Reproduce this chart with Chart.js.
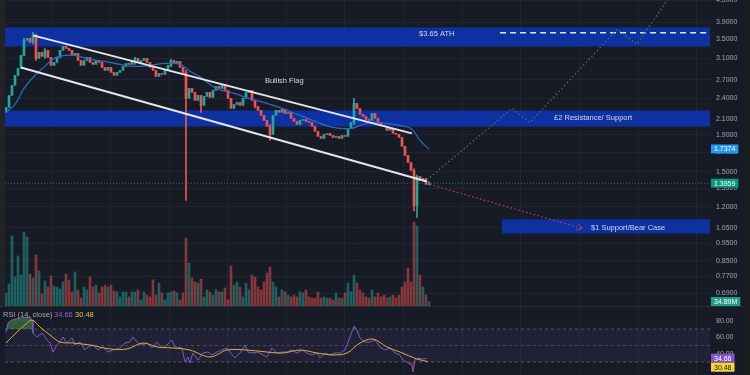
<!DOCTYPE html>
<html>
<head>
<meta charset="utf-8">
<script src="https://cdn.jsdelivr.net/npm/chart.js@4.4.1/dist/chart.umd.min.js"></script>
<style>
  html, body { margin: 0; padding: 0; background: #171b26; overflow: hidden; }
  #wrap { position: relative; width: 750px; height: 375px; overflow: hidden; background: #171b26; }
  #main { position: absolute; left: 0; top: -10px; }
  #rsi { position: absolute; left: 0; top: 307px; }
  #strip { position: absolute; left: 0; top: 0; width: 5px; height: 306px; background: #222326; }
  #sep { position: absolute; left: 0; top: 306px; width: 750px; height: 1px; background: #2a2e39; }
  #edge { position: absolute; left: 744px; top: 0; width: 6px; height: 375px; background: #1b1c1f; }
</style>
</head>
<body>
<div id="wrap">
  <canvas id="main" width="750" height="316"></canvas>
  <canvas id="rsi" width="750" height="68"></canvas>
  <div id="strip"></div>
  <div id="sep"></div>
  <div id="edge"></div>
</div>
<script>
// candles, one per session, index 0..141
const opens = [2.195, 2.266, 2.446, 2.608, 2.780, 2.907, 3.159, 3.476, 3.521, 3.432,
  3.589, 3.099, 3.220, 3.139, 3.261, 3.118, 2.963, 3.020, 3.118, 3.261,
  3.346, 3.303, 3.261, 3.159, 3.199, 3.059, 2.963, 3.059, 3.118, 3.020,
  2.982, 3.059, 3.020, 2.925, 2.870, 2.925, 2.833, 2.780, 2.833, 2.870,
  2.944, 3.001, 2.982, 3.059, 3.099, 3.020, 3.059, 3.099, 3.020, 2.925,
  2.870, 2.762, 2.815, 2.797, 2.870, 2.963, 3.059, 3.001, 3.040, 2.925,
  2.833, 2.400, 2.558, 2.493, 2.369, 2.446, 2.295, 2.430, 2.493, 2.415,
  2.526, 2.591, 2.558, 2.624, 2.526, 2.400, 2.251, 2.309, 2.339, 2.295,
  2.400, 2.493, 2.526, 2.369, 2.280, 2.223, 2.153, 2.085, 2.007, 1.907,
  2.153, 2.223, 2.195, 2.237, 2.180, 2.195, 2.112, 2.072, 2.032, 2.085,
  2.098, 2.072, 2.058, 2.007, 1.944, 1.882, 1.858, 1.907, 1.919, 1.894,
  1.870, 1.882, 1.858, 1.894, 1.882, 1.981, 2.058, 2.324, 2.251, 2.167,
  2.139, 2.098, 2.085, 2.180, 2.112, 2.058, 2.019, 2.007, 1.956, 1.981,
  1.919, 1.907, 1.870, 1.766, 1.667, 1.594, 1.515, 1.211, 1.458, 1.421,
  1.439, 1.385];
const closes = [2.266, 2.446, 2.608, 2.780, 2.907, 3.159, 3.476, 3.521, 3.432, 3.589,
  3.099, 3.220, 3.139, 3.261, 3.118, 2.963, 3.020, 3.118, 3.261, 3.346,
  3.303, 3.261, 3.159, 3.199, 3.059, 2.963, 3.059, 3.118, 3.020, 2.982,
  3.059, 3.020, 2.925, 2.870, 2.925, 2.833, 2.780, 2.833, 2.870, 2.944,
  3.001, 2.982, 3.059, 3.099, 3.020, 3.059, 3.099, 3.020, 2.925, 2.870,
  2.762, 2.815, 2.797, 2.870, 2.963, 3.059, 3.001, 3.040, 2.925, 2.833,
  2.400, 2.558, 2.493, 2.369, 2.446, 2.295, 2.430, 2.493, 2.415, 2.526,
  2.591, 2.558, 2.624, 2.526, 2.400, 2.251, 2.309, 2.339, 2.295, 2.400,
  2.493, 2.526, 2.369, 2.280, 2.223, 2.153, 2.085, 2.007, 1.907, 2.153,
  2.223, 2.195, 2.237, 2.180, 2.195, 2.112, 2.072, 2.032, 2.085, 2.098,
  2.072, 2.058, 2.007, 1.944, 1.882, 1.858, 1.907, 1.919, 1.894, 1.870,
  1.882, 1.858, 1.894, 1.882, 1.981, 2.058, 2.324, 2.251, 2.167, 2.139,
  2.098, 2.085, 2.180, 2.112, 2.058, 2.019, 2.007, 1.956, 1.981, 1.919,
  1.907, 1.870, 1.766, 1.667, 1.594, 1.515, 1.211, 1.458, 1.421, 1.439,
  1.385, 1.3959];
// visible wicks: [candle index, high, low]
const wicks = [[6, 3.52, 3.15], [9, 3.66, 3.40], [10, 3.62, 3.06], [13, 3.30, 3.10],
  [43, 3.12, 2.98], [55, 3.08, 2.94], [60, 2.87, 1.251], [65, 2.43, 2.195],
  [83, 2.36, 2.26], [88, 2.03, 1.835], [116, 2.40, 2.03], [136, 1.53, 1.17],
  [137, 1.47, 1.122], [141, 1.41, 1.38]];
// volume in millions
const volumes = [101, 171, 543, 225, 388, 240, 574, 535, 248, 217,
  395, 271, 93, 194, 147, 233, 155, 147, 132, 186,
  248, 202, 109, 264, 124, 62, 147, 124, 225, 147,
  163, 101, 147, 163, 147, 163, 116, 109, 70, 109,
  109, 70, 109, 109, 124, 47, 109, 85, 70, 202,
  85, 178, 101, 47, 101, 109, 116, 101, 47, 101,
  527, 333, 217, 186, 178, 209, 70, 124, 109, 85,
  124, 109, 109, 140, 47, 310, 163, 186, 147, 70,
  178, 124, 240, 225, 147, 124, 186, 256, 302, 186,
  147, 70, 124, 109, 85, 70, 85, 70, 109, 101,
  124, 70, 62, 62, 109, 62, 70, 62, 62, 47,
  101, 62, 62, 101, 178, 109, 240, 178, 124, 101,
  70, 62, 124, 70, 101, 70, 85, 62, 70, 85,
  62, 85, 147, 186, 295, 186, 651, 620, 240, 147,
  85, 34.89];

// moving average
const maIdx = [0, 3, 6, 10, 13, 16, 20, 23, 28, 33, 38, 43, 48, 53, 58, 61, 65, 70, 76, 81, 87, 92, 98, 104, 109, 115, 118, 122, 127, 131, 135, 138, 141];
const maVal = [2.195, 2.309, 2.558, 2.797, 2.944, 3.099, 3.159, 3.159, 3.079, 3.040, 2.982, 2.944, 2.963, 3.001, 2.982, 2.870, 2.744, 2.558, 2.478, 2.400, 2.324, 2.251, 2.153, 2.058, 1.994, 1.981, 2.019, 2.058, 2.045, 2.019, 1.981, 1.835, 1.7374];

// drawings
const chanUpIdx = [9, 135.3], chanUpVal = [3.589, 1.919];
const chanLoIdx = [5, 140.3], chanLoVal = [2.925, 1.412];
const bullIdx = [141.3, 168.7, 174.7, 203.7, 210.3, 224], bullVal = [1.448, 2.251, 2.058, 3.730, 3.389, 4.97];
const bearIdx = [141.3, 192], bearVal = [1.385, 1.046];
const athIdx = [164.7, 234.67], athVal = 3.65;
const bandStart = [-0.33, -0.33, 165.3];
const bandTop = [3.777, 2.223, 1.108];
const bandBottom = [3.346, 2.007, 1.013];
const noteTexts = ['$3.65 ATH', '£2 Resistance/ Support', '$1 Support/Bear Case', 'Bullish Flag'];
const noteIdx = [137.7, 182.7, 195, 86.3];
const noteVal = [3.612, 2.112, 1.052, 2.675];

// RSI pane
const rsiIdx = [0, 0.67, 2, 4.67, 8, 8.67, 9, 10.3, 12, 13.67, 14.67, 15.67, 17, 18, 19, 20.3, 22, 23, 24.67, 26.3,
  27.3, 29, 30.67, 32.3, 34, 35.67, 38, 39.67, 41.3, 42.3, 43.67, 45.3, 47, 48.67, 50.3, 52, 53.67, 55.3, 56.3, 58.67,
  59.67, 60.67, 61.3, 62.3, 64, 65.67, 67.3, 68.67, 70.3, 72, 73.67, 74.67, 76.3, 78, 79.67, 80.67, 82.3, 84, 85.67, 87,
  88.67, 90.3, 92, 93.67, 95.3, 97, 98.67, 100.3, 102, 103.67, 104.67, 106.3, 108, 109.67, 111.3, 113, 114.67, 116, 117, 118,
  119.67, 121.3, 123, 124.67, 126.3, 128, 129.67, 131.3, 132.3, 134, 135.3, 135.67, 136.3, 137.3, 139, 140.3];
const rsiVal = [66.4, 77.3, 80.9, 83.3, 84.5, 80.9, 65.2, 60.3, 65.2, 56.7, 53.0, 42.1, 50.6, 54.2, 60.3, 53.0, 59.1, 50.6, 54.2, 44.5,
  48.2, 50.6, 44.5, 48.2, 42.1, 44.5, 47.0, 53.0, 54.2, 60.3, 54.2, 50.6, 53.0, 47.0, 54.2, 47.0, 50.6, 56.7, 48.2, 47.0,
  30.0, 36.1, 28.8, 40.9, 32.4, 40.9, 42.1, 38.5, 42.1, 44.5, 47.0, 42.1, 34.8, 40.9, 50.6, 42.1, 40.9, 42.1, 38.5, 36.1,
  47.0, 40.9, 42.1, 42.1, 44.5, 40.9, 44.5, 40.9, 38.5, 40.9, 34.8, 40.9, 38.5, 40.9, 40.9, 44.5, 60.3, 73.6, 68.8, 59.1,
  54.2, 54.2, 56.7, 48.2, 44.5, 47.0, 40.9, 38.5, 32.4, 28.8, 26.4, 17.9, 32.4, 34.8, 33.6, 34.66];
const rsiMaIdx = [0, 3.67, 6.33, 8.67, 11.33, 14.67, 18, 22.33, 28, 34.67, 40.33, 45.67, 50.33, 55.67, 61.33,
  68, 73.67, 80.33, 87, 92.33, 98, 103.67, 109, 113.67, 118, 122.33, 127, 131.33, 137, 140.67];
const rsiMaVal = [53.0, 66.4, 74.8, 80.9, 72.4, 62.7, 54.2, 53.0, 50.6, 45.8, 45.8, 53.0, 48.2, 47.0, 44.5,
  36.1, 44.5, 44.5, 42.1, 40.9, 44.5, 40.9, 38.5, 40.9, 53.0, 57.9, 48.2, 42.1, 33.6, 30.48];

// axes
const xMin = -0.33, xMax = 234.67;
const priceMin = 0.637, priceMax = 4.5;
const rsiMin = 14.24, rsiMax = 96.67;
const gridX = [15.3, 34.9, 54.4, 73.9, 93.5, 113, 132.5, 152.1, 171.6, 191.1, 210.7, 230.2];
const priceTicks = [4.5, 3.9, 3.5, 3.1, 2.7, 2.4, 2.1, 1.9, 1.7, 1.5, 1.35, 1.2, 1.05, 0.95, 0.85, 0.77, 0.69];
const rsiTicks = [80, 60, 40, 20];

const FONT = "'Liberation Sans', Arial, sans-serif";
Chart.defaults.font.family = FONT;
Chart.defaults.font.size = 7;
Chart.defaults.color = '#a3a6af';

const UP = '#26a69a', DOWN = '#ef5350';
const isUp = i => closes[i] >= opens[i];
const pts = (xs, ys) => xs.map((x, k) => ({ x: x, y: Array.isArray(ys) ? ys[k] : ys }));
const gridColor = 'rgba(42,46,57,0.55)';

// keep the plot area where the picture has it
const fitX = s => { s.height = 0; s.paddingLeft = 0; s.paddingRight = 0; };
const fitY = s => { s.width = 40; s.paddingTop = 0; s.paddingBottom = 0; };

function drawTag(ctx, left, cy, text, bg, fg) {
  ctx.font = '7px ' + FONT;
  const w = ctx.measureText(text).width + 6;
  ctx.fillStyle = bg;
  ctx.fillRect(left, cy - 4.5, w, 9);
  ctx.fillStyle = fg;
  ctx.textAlign = 'left';
  ctx.textBaseline = 'middle';
  ctx.fillText(text, left + 3, cy + 0.5);
}

const mainOverlay = {
  id: 'mainOverlay',
  afterDatasetsDraw(chart) {
    const { ctx, scales: { x, y } } = chart;
    ctx.save();
    ctx.font = '7.5px ' + FONT;
    ctx.fillStyle = '#d6d9e0';
    ctx.textBaseline = 'middle';
    noteTexts.forEach((t, k) => ctx.fillText(t, x.getPixelForValue(noteIdx[k]), y.getPixelForValue(noteVal[k])));
    // arrow head at end of bear path
    const x1 = x.getPixelForValue(bearIdx[0]), y1 = y.getPixelForValue(bearVal[0]);
    const x2 = x.getPixelForValue(bearIdx[1]), y2 = y.getPixelForValue(bearVal[1]);
    const a = Math.atan2(y2 - y1, x2 - x1);
    ctx.strokeStyle = '#c2405a';
    ctx.lineWidth = 1;
    ctx.beginPath();
    ctx.moveTo(x2 - 6 * Math.cos(a - 0.6), y2 - 6 * Math.sin(a - 0.6));
    ctx.lineTo(x2, y2);
    ctx.lineTo(x2 - 6 * Math.cos(a + 0.6), y2 - 6 * Math.sin(a + 0.6));
    ctx.stroke();
    ctx.restore();
  },
  afterDraw(chart) {
    const { ctx, chartArea, scales: { y, yVol } } = chart;
    ctx.save();
    const left = chartArea.right + 1;
    drawTag(ctx, left, y.getPixelForValue(maVal[maVal.length - 1]), '1.7374', '#2196f3', '#ffffff');
    drawTag(ctx, left, y.getPixelForValue(closes[closes.length - 1]), '1.3959', '#089981', '#ffffff');
    drawTag(ctx, left, yVol.getPixelForValue(volumes[volumes.length - 1]), '34.89M', '#1f9c88', '#ffffff');
    ctx.restore();
  }
};

new Chart(document.getElementById('main'), {
  type: 'bar',
  data: {
    datasets: [
      { type: 'line', data: pts(chanUpIdx, chanUpVal), borderColor: '#e4e6ec', borderWidth: 2, pointRadius: 0, order: 0 },
      { type: 'line', data: pts(chanLoIdx, chanLoVal), borderColor: '#e4e6ec', borderWidth: 2, pointRadius: 0, order: 0 },
      { type: 'line', data: pts(bullIdx, bullVal), borderColor: '#2f8a3a', borderWidth: 1.2, borderDash: [1.5, 2.5], pointRadius: 0, order: 0 },
      { type: 'line', data: pts(bearIdx, bearVal), borderColor: '#c2405a', borderWidth: 1.2, borderDash: [1.5, 2.5], pointRadius: 0, order: 0 },
      { type: 'line', data: pts(athIdx, athVal), borderColor: '#e4e6ec', borderWidth: 1.5, borderDash: [6, 4], pointRadius: 0, order: 0 },
      { type: 'line', data: pts([xMin, xMax], closes[closes.length - 1]), borderColor: 'rgba(38,166,154,0.7)', borderWidth: 1, borderDash: [1, 2], pointRadius: 0, order: 1 },
      { type: 'line', data: pts(maIdx, maVal), borderColor: '#2a6cc0', borderWidth: 1.2, pointRadius: 0, tension: 0.4, order: 2 },
      {
        data: wicks.map(w => ({ x: w[0], y: [w[2], w[1]] })),
        backgroundColor: c => isUp(c.raw.x) ? UP : DOWN,
        barThickness: 1, grouped: false, order: 3
      },
      {
        data: closes.map((c, i) => ({ x: i, y: [opens[i], c] })),
        backgroundColor: c => isUp(c.raw.x) ? UP : DOWN,
        barThickness: 2, grouped: false, order: 3
      },
      {
        data: volumes.map((v, i) => ({ x: i, y: v })),
        yAxisID: 'yVol',
        backgroundColor: c => isUp(c.raw.x) ? 'rgba(38,166,154,0.5)' : 'rgba(239,83,80,0.5)',
        barThickness: 2, grouped: false, order: 5
      },
      ...bandTop.map((t, k) => ({
        type: 'line', data: pts([bandStart[k], xMax], t), borderWidth: 0, borderColor: 'transparent',
        pointRadius: 0, fill: { target: { value: bandBottom[k] } }, backgroundColor: '#0e31a2', order: 9
      }))
    ]
  },
  options: {
    responsive: false,
    animation: false,
    events: [],
    layout: { padding: { top: 10, left: 5, right: 0, bottom: 0 } },
    plugins: { legend: { display: false }, tooltip: { enabled: false } },
    scales: {
      x: {
        type: 'linear', min: xMin, max: xMax, offset: false,
        grid: { color: gridColor, drawTicks: false, offset: false },
        border: { display: false },
        ticks: { display: false },
        afterBuildTicks: s => { s.ticks = gridX.map(v => ({ value: v })); },
        afterFit: fitX
      },
      y: {
        type: 'logarithmic', position: 'right', min: priceMin, max: priceMax, bounds: 'data',
        grid: { color: gridColor, drawTicks: false },
        border: { display: false },
        ticks: { autoSkip: false, padding: 6, callback: v => Number(v).toFixed(4) },
        afterBuildTicks: s => { s.min = priceMin; s.max = priceMax; s.ticks = priceTicks.map(v => ({ value: v })); },
        afterFit: fitY
      },
      yVol: { type: 'linear', display: false, min: 0, max: 2372 }
    }
  },
  plugins: [mainOverlay]
});

const rsiOverlay = {
  id: 'rsiOverlay',
  afterDraw(chart) {
    const { ctx, chartArea, scales: { y } } = chart;
    ctx.save();
    ctx.font = '7.5px ' + FONT;
    ctx.textBaseline = 'middle';
    ctx.textAlign = 'left';
    ctx.fillStyle = '#a3a6af';
    ctx.fillText('RSI (14, close)', 3, 8);
    ctx.fillStyle = '#8e63d6';
    ctx.fillText('34.66', 54, 8);
    ctx.fillStyle = '#e8c33c';
    ctx.fillText('30.48', 75, 8);
    const left = chartArea.right + 1;
    const y1 = y.getPixelForValue(rsiVal[rsiVal.length - 1]);
    let y2 = y.getPixelForValue(rsiMaVal[rsiMaVal.length - 1]);
    if (y2 - y1 < 9) y2 = y1 + 9;
    drawTag(ctx, left, y1, '34.66', '#7e57c2', '#ffffff');
    drawTag(ctx, left, y2, '30.48', '#f5d33b', '#131722');
    ctx.restore();
  }
};

new Chart(document.getElementById('rsi'), {
  type: 'line',
  data: {
    datasets: [
      {
        data: pts(rsiIdx, rsiVal), borderColor: '#7e57c2', borderWidth: 1, pointRadius: 0,
        fill: { target: { value: 70 }, above: 'rgba(76,175,80,0.45)', below: 'rgba(0,0,0,0)' }, order: 1
      },
      {
        data: pts(rsiIdx, rsiVal), borderColor: 'transparent', borderWidth: 0, pointRadius: 0,
        fill: { target: { value: 30 }, above: 'rgba(0,0,0,0)', below: 'rgba(242,54,69,0.35)' }, order: 2
      },
      { data: pts(rsiMaIdx, rsiMaVal), borderColor: '#d9b13a', borderWidth: 1, pointRadius: 0, tension: 0.35, order: 0 },
      {
        data: pts([xMin, xMax], 70), borderColor: 'rgba(120,123,134,0.6)', borderWidth: 1, borderDash: [3, 3],
        pointRadius: 0, fill: { target: { value: 30 } }, backgroundColor: 'rgba(126,87,194,0.1)', order: 5
      },
      { data: pts([xMin, xMax], 50), borderColor: 'rgba(120,123,134,0.45)', borderWidth: 1, borderDash: [3, 3], pointRadius: 0, order: 5 },
      { data: pts([xMin, xMax], 30), borderColor: 'rgba(120,123,134,0.6)', borderWidth: 1, borderDash: [3, 3], pointRadius: 0, order: 5 }
    ]
  },
  options: {
    responsive: false,
    animation: false,
    events: [],
    layout: { padding: { top: 0, left: 5, right: 0, bottom: 0 } },
    plugins: { legend: { display: false }, tooltip: { enabled: false } },
    scales: {
      x: {
        type: 'linear', min: xMin, max: xMax,
        grid: { color: gridColor, drawTicks: false },
        border: { display: false },
        ticks: { display: false },
        afterBuildTicks: s => { s.ticks = gridX.map(v => ({ value: v })); },
        afterFit: fitX
      },
      y: {
        type: 'linear', position: 'right', min: rsiMin, max: rsiMax,
        grid: { color: 'rgba(42,46,57,0.3)', drawTicks: false },
        border: { display: false },
        ticks: { autoSkip: false, padding: 6, callback: v => Number(v).toFixed(2) },
        afterBuildTicks: s => { s.min = rsiMin; s.max = rsiMax; s.ticks = rsiTicks.map(v => ({ value: v })); },
        afterFit: fitY
      }
    }
  },
  plugins: [rsiOverlay]
});
</script>
</body>
</html>
